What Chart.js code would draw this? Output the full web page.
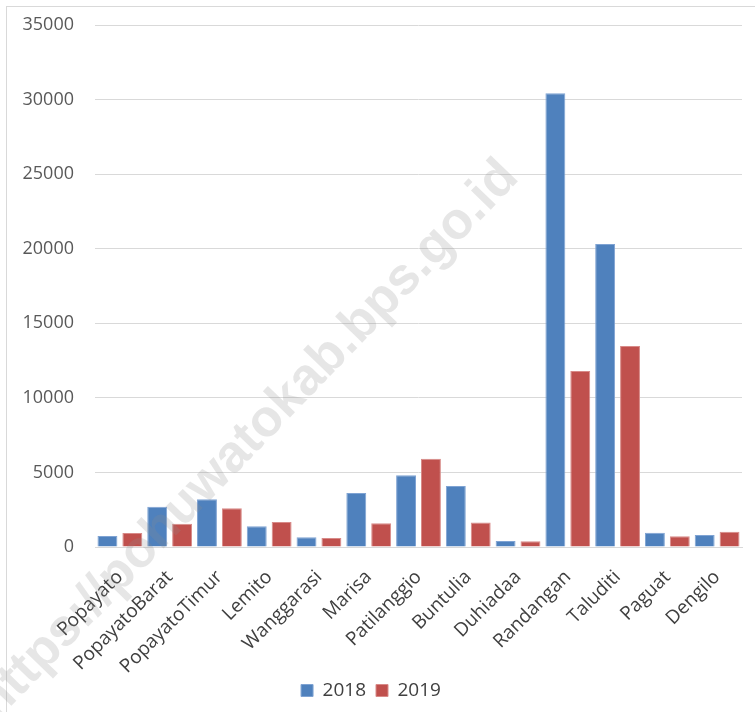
<!DOCTYPE html>
<html>
<head>
<meta charset="utf-8">
<script src="https://cdn.jsdelivr.net/npm/chart.js@4"></script>
<style>
    body { margin: 0; background: #fff; }
    .wrap { position: relative; width: 755px; height: 712px; overflow: hidden; }
    .frame { position: absolute; left: 6px; top: 6px; width: 760px; height: 720px; border: 1px solid #d9d9d9; pointer-events: none; }
    .watermark {
        position: absolute; left: -38px; top: 688px; width: 900px;
        font-family: "Liberation Sans", Arial, sans-serif; font-weight: bold; font-size: 52px;
        color: rgba(140, 140, 140, 0.22); transform: rotate(-46deg); transform-origin: 0 0;
        white-space: nowrap; pointer-events: none;
    }
</style>
</head>
<body>
<div class="wrap">
    <canvas id="barChart" width="755" height="712"></canvas>
    <div class="frame"></div>
    <div class="watermark">https://pohuwatokab.bps.go.id</div>
</div>
<script>
// Data
const districts = ['Popayato', 'PopayatoBarat', 'PopayatoTimur', 'Lemito', 'Wanggarasi', 'Marisa',
    'Patilanggio', 'Buntulia', 'Duhiadaa', 'Randangan', 'Taluditi', 'Paguat', 'Dengilo'];
const values2018 = [740, 2700, 3200, 1390, 650, 3620, 4810, 4090, 400, 30430, 20320, 960, 800];
const values2019 = [940, 1560, 2600, 1680, 600, 1590, 5920, 1650, 390, 11800, 13480, 720, 1030];
const yTicks = [0, 5000, 10000, 15000, 20000, 25000, 30000, 35000];

const fontName = '"Open Sans", "DejaVu Sans", sans-serif';

const chartData = {
    labels: districts,
    datasets: [{
        label: '2018',
        data: values2018,
        backgroundColor: '#4f81bd',
        borderColor: '#7fa3d3',
        borderWidth: 1
    }, {
        label: '2019',
        data: values2019,
        backgroundColor: '#c0504d',
        borderColor: '#d88a88',
        borderWidth: 1
    }]
};

const chartConfig = {
    type: 'bar',
    data: chartData,
    options: {
        responsive: false,
        animation: false,
        datasets: {
            bar: { categoryPercentage: 1.0, barPercentage: 0.8 }
        },
        layout: { padding: { top: 25, right: 13, bottom: 2, left: 0 } },
        plugins: {
            legend: {
                position: 'bottom',
                labels: {
                    boxWidth: 12, boxHeight: 12, padding: 10,
                    color: '#404040',
                    font: { family: fontName, size: 19 }
                }
            },
            tooltip: { enabled: false }
        },
        scales: {
            x: {
                grid: { display: false },
                border: { color: '#d9d9d9', width: 1 },
                ticks: {
                    color: '#404040',
                    font: { family: fontName, size: 19 },
                    minRotation: 45, maxRotation: 45,
                    padding: 11
                },
                afterFit: (scale) => {
                    scale.height = 124;
                    // let the long rotated labels run below the axis box, as in the original
                    scale._computeLabelArea = () => undefined;
                }
            },
            y: {
                min: 0,
                max: 35000,
                afterBuildTicks: (scale) => { scale.ticks = yTicks.map(v => ({ value: v })); },
                grid: { color: '#d9d9d9', drawTicks: false },
                border: { display: false },
                ticks: {
                    color: '#595959',
                    font: { family: fontName, size: 18 },
                    padding: 21,
                    callback: (value) => String(value)
                },
                afterFit: (scale) => {
                    scale.width = 95;
                    scale.paddingTop = 0;
                    scale.paddingBottom = 0;
                }
            }
        }
    }
};

const ctx = document.getElementById('barChart').getContext('2d');
new Chart(ctx, chartConfig);
</script>
</body>
</html>
